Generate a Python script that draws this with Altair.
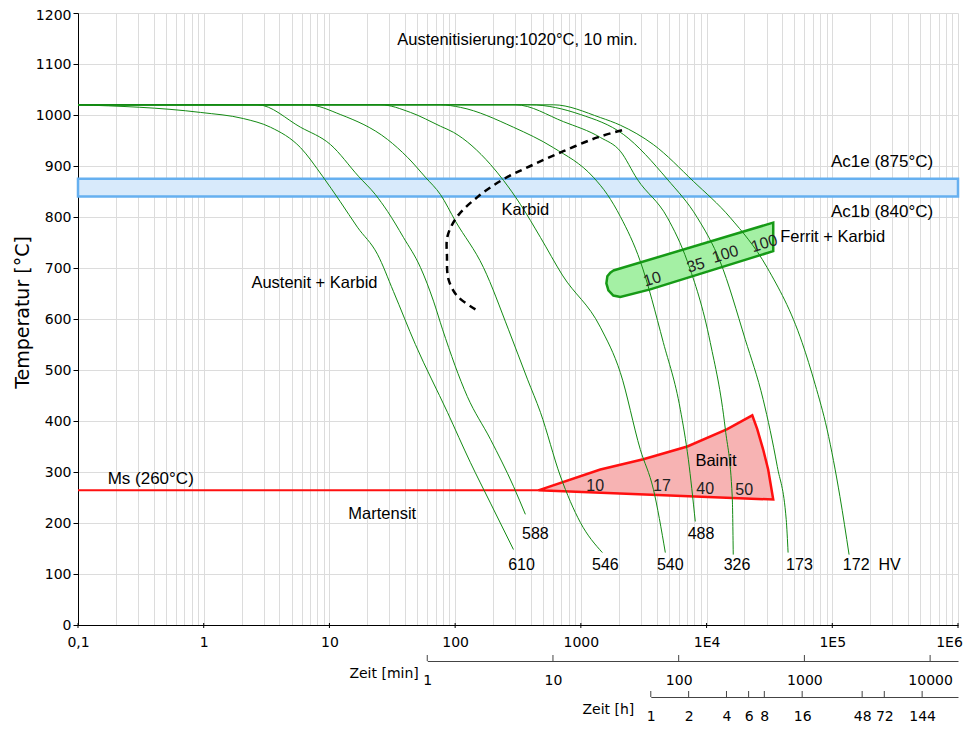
import altair as alt
import pandas as pd
import math

# ---------------- axes ----------------
main_ticks = [0.1, 1, 10, 100, 1000, 1e4, 1e5, 1e6]
main_tick_labels = ["0,1", "1", "10", "100", "1000", "1E4", "1E5", "1E6"]
temp_ticks = [0, 100, 200, 300, 400, 500, 600, 700, 800, 900, 1000, 1100, 1200]
minute_ticks = [1, 10, 100, 1000, 10000]
hour_ticks = [1, 2, 4, 6, 8, 16, 48, 72, 144]

# ---------------- cooling curves: time [s], temperature [°C] ----------------
hv610_t = [0.1, 0.945, 2.07, 3.40, 5.89, 8.81, 12.2, 16.7, 24.1, 32.3, 48.3, 86.9, 132, 191, 291]
hv610_T = [1020, 1005, 993, 976, 936, 880, 830, 780, 727, 654, 550, 417, 319, 239, 148]

hv588_t = [0.1, 2.68, 5.89, 10.2, 17.0, 23.2, 29.0, 38.8, 53.0, 67.3, 79.3, 125, 191, 291, 362]
hv588_T = [1020, 1020, 976, 942, 880, 844, 811, 760, 701, 635, 580, 448, 364, 272, 217]

hv546_t = [0.1, 6.70, 12.2, 29.0, 41.8, 58.0, 76.4, 100.5, 168, 265, 376, 477, 687, 991, 1483]
hv546_T = [1020, 1020, 1001, 952, 917, 878, 844, 792, 701, 580, 482, 417, 292, 201, 142]

hv540_t = [0.1, 25.5, 44.2, 76.4, 97.0, 191, 242, 330, 477, 713, 1429, 2061, 2972, 3776, 4698]
hv540_T = [1020, 1020, 1005, 978, 966, 903, 872, 825, 760, 686, 584, 495, 344, 266, 142]

hv488_t = [0.1, 76.4, 110, 291, 604, 1257, 1625, 2061, 2972, 4529, 6180, 7160, 8130]
hv488_T = [1020, 1020, 1015, 976, 936, 878, 844, 801, 713, 554, 423, 325, 203]

hv326_t = [0.1, 302, 726, 1429, 2061, 2812, 4873, 7030, 10700, 14100, 16000, 16300]
hv326_T = [1020, 1020, 987, 956, 929, 874, 799, 713, 554, 384, 252, 138]

hv173_t = [0.1, 397, 991, 2178, 4873, 8430, 12800, 20300, 28200, 36500, 43000, 44500]
hv173_T = [1020, 1020, 1001, 962, 874, 799, 713, 560, 442, 311, 207, 142]

hv172_t = [0.1, 604, 1429, 2061, 3776, 7850, 15400, 30300, 57500, 73000, 90800, 115000, 136000]
hv172_T = [1020, 1020, 995, 980, 942, 870, 799, 701, 554, 472, 384, 252, 138]

curve_names = ["610", "588", "546", "540", "488", "326", "173", "172"]
curve_t = [hv610_t, hv588_t, hv546_t, hv540_t, hv488_t, hv326_t, hv173_t, hv172_t]
curve_T = [hv610_T, hv588_T, hv546_T, hv540_T, hv488_T, hv326_T, hv173_T, hv172_T]

# carbide precipitation start (dashed)
karbid_t = [145, 104, 88.5, 86.1, 86.9, 104, 152, 242, 397, 726, 1355, 2265]
karbid_T = [619, 645, 678, 723, 762, 801, 840, 874, 900, 929, 956, 972]

# ferrite + carbide field (outline)
ferrit_t = [1813, 33900, 33900, 3565, 2061, 1813, 1656, 1596, 1625, 1715]
ferrit_T = [695, 789, 733, 658, 643, 646, 656, 670, 684, 691]

# bainite field (outline)
bainit_t = [459, 1429, 3140, 7030, 14600, 23100, 25300, 28200, 30900, 33900]
bainit_T = [264, 305, 325, 350, 384, 411, 384, 344, 305, 246]

# Ms line
ms_t = [0.1, 459]
ms_T = [264, 264]

# Ac1 band
ac1_b, ac1_e = 840, 875

# ---------------- labels ----------------
annot_text = ["Austenitisierung:1020°C, 10 min.", "Karbid", "Austenit + Karbid", "Martensit", "Bainit"]
annot_t = [313, 362, 7.6, 26.3, 11900]
annot_T = [1148, 814, 671, 217, 322]

annot2_text = ["Ac1e (875°C)", "Ac1b (840°C)", "Ms (260°C)"]
annot2_t = [249000, 249000, 0.379]
annot2_T = [907, 809, 286]

fk_text = ["Ferrit + Karbid"]
fk_t = [38500]
fk_T = [761]

hv_text = ["610", "588", "546", "540", "488", "326", "173", "172", "HV"]
hv_lab_t = [337, 435, 1566, 5140, 9030, 17460, 54800, 155000, 286000]
hv_lab_T = [117, 179, 117, 117, 179, 117, 117, 117, 117]

bain_pct = ["10", "17", "40", "50"]
bain_pct_t = [1300, 4420, 9750, 19900]
bain_pct_T = [272, 272, 266, 264]

fer_pct = ["10", "35", "100", "100"]
fer_pct_t = [3700, 8200, 14100, 28800]
fer_pct_T = [678, 705, 727, 748]

# ---------------- layout ----------------
W, H = 880, 612
x_lo, x_hi = main_ticks[0], main_ticks[-1]
decades = math.log10(x_hi) - math.log10(x_lo)


def px_of(seconds):
    return W * (math.log10(seconds) - math.log10(x_lo)) / decades


grid_values = [m * d for d in main_ticks[:-1] for m in range(1, 10)] + [main_ticks[-1]]
label_expr = "''"
for v, lab in reversed(list(zip(main_ticks, main_tick_labels))):
    label_expr = f"abs(datum.value - {v}) < {v * 1e-6} ? '{lab}' : " + label_expr

xscale = alt.Scale(type="log", domain=[x_lo, x_hi], nice=False)
yscale = alt.Scale(domain=[0, 1200], nice=False, zero=False)

x_axis = alt.Axis(values=grid_values, grid=True, ticks=False, tickSize=0, labelExpr=label_expr,
                  labelPadding=10, labelFlush=False, labelOverlap=False, title=None,
                  labelOffset={"condition": {"test": f"datum.value >= {x_hi * 0.999}", "value": -9},
                               "value": 0},
                  gridColor="#dcdcdc", domainColor="#000", labelFontSize=14)
y_axis = alt.Axis(values=temp_ticks, format="d", grid=True, tickSize=5, labelPadding=2,
                  labelFlush=False,
                  labelOffset={"condition": {"test": "datum.value >= 1200", "value": 2},
                               "value": 0},
                  title="Temperatur [°C]", titleFont="DejaVu Sans", titleFontSize=19,
                  titleFontWeight="normal", titleX=-56, titleY=H / 2 - 7, titleAngle=270,
                  titleAlign="center", titleBaseline="middle", gridColor="#dcdcdc",
                  domainColor="#000", labelFontSize=14)

X = alt.X("t:Q", scale=xscale, axis=x_axis)
Y = alt.Y("T:Q", scale=yscale, axis=y_axis)

# data frames
rows = []
for name, ts, Ts in zip(curve_names, curve_t, curve_T):
    for i, (t, T) in enumerate(zip(ts, Ts)):
        rows.append({"curve": name, "t": t, "T": T, "i": i})
curves_df = pd.DataFrame(rows)

karbid_df = pd.DataFrame({"t": karbid_t, "T": karbid_T, "i": range(len(karbid_t))})
ferrit_df = pd.DataFrame({"t": ferrit_t, "T": ferrit_T, "i": range(len(ferrit_t))})
bainit_df = pd.DataFrame({"t": bainit_t, "T": bainit_T, "i": range(len(bainit_t))})
ms_df = pd.DataFrame({"t": ms_t, "T": ms_T, "i": range(len(ms_t))})
band_df = pd.DataFrame({"t": [x_lo], "t2": [x_hi], "T": [ac1_b], "T2": [ac1_e]})

annot_df = pd.DataFrame({"t": annot_t, "T": annot_T, "label": annot_text})
annot2_df = pd.DataFrame({"t": annot2_t, "T": annot2_T, "label": annot2_text})
fk_df = pd.DataFrame({"t": fk_t, "T": fk_T, "label": fk_text})
hv_df = pd.DataFrame({"t": hv_lab_t, "T": hv_lab_T, "label": hv_text})
bp_df = pd.DataFrame({"t": bain_pct_t, "T": bain_pct_T, "label": bain_pct})
fp_df = pd.DataFrame({"t": fer_pct_t, "T": fer_pct_T, "label": fer_pct})
dec_df = pd.DataFrame({"t": main_ticks})

FONT = "Liberation Sans"

band = alt.Chart(band_df).mark_rect(fill="#d8eafb", stroke="#66b0f0", strokeWidth=2.5).encode(
    x=X, x2="t2", y=Y, y2="T2")

ferrit = alt.Chart(ferrit_df).mark_line(fill="#a4f0a4", stroke="#169a16", strokeWidth=2.5,
                                        interpolate="linear-closed").encode(x=X, y=Y, order="i:Q")

bainit = alt.Chart(bainit_df).mark_line(fill="#f7b3b3", stroke="#ff1010", strokeWidth=2.5,
                                        interpolate="linear-closed").encode(x=X, y=Y, order="i:Q")

ms = alt.Chart(ms_df).mark_line(color="#ff1010", strokeWidth=2).encode(x=X, y=Y, order="i:Q")

curves = alt.Chart(curves_df).mark_line(color="#138a13", strokeWidth=1, interpolate="monotone").encode(
    x=X, y=Y, detail="curve:N", order="i:Q")

karbid = alt.Chart(karbid_df).mark_line(color="#000", strokeWidth=2.5, strokeDash=[7, 5],
                                        interpolate="catmull-rom").encode(x=X, y=Y, order="i:Q")

dec_ticks = alt.Chart(dec_df).mark_rule(color="#000", strokeWidth=1).encode(
    x=X, y=alt.value(H - 2), y2=alt.value(H + 3))

annot = alt.Chart(annot_df).mark_text(font=FONT, fontSize=16.5, color="#000").encode(
    x=X, y=Y, text="label:N")
annot2 = alt.Chart(annot2_df).mark_text(font=FONT, fontSize=17, color="#000").encode(
    x=X, y=Y, text="label:N")
fk = alt.Chart(fk_df).mark_text(font=FONT, fontSize=16.5, color="#000", align="left").encode(
    x=X, y=Y, text="label:N")
hv = alt.Chart(hv_df).mark_text(font=FONT, fontSize=16, color="#000").encode(
    x=X, y=Y, text="label:N")
bp = alt.Chart(bp_df).mark_text(font=FONT, fontSize=16, color="#222").encode(
    x=X, y=Y, text="label:N")
fp = alt.Chart(fp_df).mark_text(font=FONT, fontSize=16, color="#222", angle=343).encode(
    x=X, y=Y, text="label:N")

main = alt.layer(band, ferrit, bainit, ms, curves, karbid, dec_ticks, annot, annot2, fk, hv, bp, fp)

# secondary time axes (minutes, hours)
min_df = pd.DataFrame({"m": minute_ticks})
min_layer = alt.Chart(min_df).mark_rule(color="#444", strokeWidth=1).encode(
    x=alt.X("m:Q",
            scale=alt.Scale(type="log", domain=[1, x_hi / 60], nice=False,
                            range=[px_of(60), W]),
            axis=alt.Axis(orient="bottom", offset=36, values=minute_ticks, format="d",
                          ticks=False, grid=False, labelPadding=12, labelFlush=False,
                          labelOverlap=False, domainColor="#444", labelFontSize=14,
                          title="Zeit [min]", titleFont="DejaVu Sans", titleFontSize=14,
                          titleFontWeight="normal", titleX=px_of(60) - 9, titleY=12,
                          titleAlign="right", titleBaseline="middle")),
    y=alt.value(H + 30), y2=alt.value(H + 36))

hour_df = pd.DataFrame({"h": hour_ticks})
hour_layer = alt.Chart(hour_df).mark_rule(color="#444", strokeWidth=1).encode(
    x=alt.X("h:Q",
            scale=alt.Scale(type="log", domain=[1, x_hi / 3600], nice=False,
                            range=[px_of(3600), W]),
            axis=alt.Axis(orient="bottom", offset=72, values=hour_ticks, format="d",
                          ticks=False, grid=False, labelPadding=12, labelFlush=False,
                          labelOverlap=False, domainColor="#444", labelFontSize=14,
                          title="Zeit [h]", titleFont="DejaVu Sans", titleFontSize=14,
                          titleFontWeight="normal", titleX=px_of(3600) - 17, titleY=12,
                          titleAlign="right", titleBaseline="middle")),
    y=alt.value(H + 66), y2=alt.value(H + 72))

chart = alt.layer(main, min_layer, hour_layer).resolve_scale(x="independent").properties(
    width=W, height=H,
    autosize=alt.AutoSizeParams(type="none"),
    padding={"left": 70, "top": 5, "right": 6, "bottom": 98},
).configure_view(stroke=None).configure_axis(
    labelFont="DejaVu Sans", labelColor="#000", tickColor="#000"
)

chart.save("out.html", embed_options={"renderer": "svg", "actions": False})
